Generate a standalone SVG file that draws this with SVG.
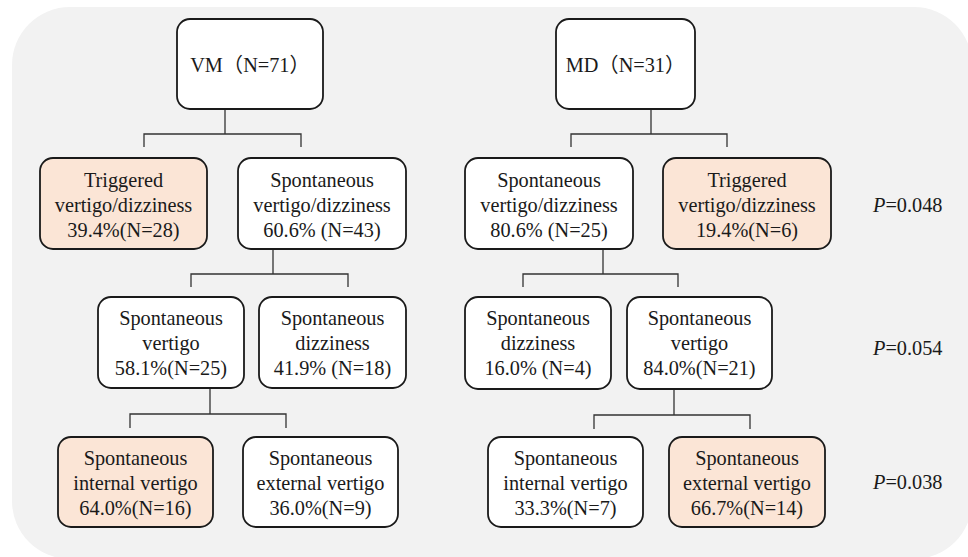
<svg xmlns="http://www.w3.org/2000/svg" width="968" height="557" viewBox="0 0 968 557">
<style>
.bg{fill:#f2f2f2}
.box{fill:#ffffff;stroke:#1a1a1a;stroke-width:1.8}
.hl{fill:#fbe5d6}
.t{font-size:20.3px;fill:#1a1a1a;text-anchor:middle}
.p{font-size:20.3px;fill:#1a1a1a}
.c{fill:none;stroke:#333333;stroke-width:1.3}
</style>
<rect class="bg" x="12" y="7" width="960" height="552" rx="58" ry="58"/>
<g id="connectors">
<path class="c" d="M225,109V134M144,147V134H301V147"/>
<path class="c" d="M273,249V274M191,287V274H348V287"/>
<path class="c" d="M210,388V414M130,428V414H286V428"/>
<path class="c" d="M651,109V134M571,147V134H727V147"/>
<path class="c" d="M603,249V274M523,287V274H678V287"/>
<path class="c" d="M674,389V415M594,429V415H750V429"/>
</g>
<g font-family="Liberation Serif, Noto Sans CJK SC, serif">
<g id="vm">
<rect class="box" x="177" y="19" width="146" height="90" rx="13"/>
<text class="t" x="250" y="72">VM（N=71）</text>
</g>
<g id="vm-triggered">
<rect class="box hl" x="40" y="158" width="167" height="91" rx="13"/>
<text class="t" x="123.5" y="187">Triggered</text>
<text class="t" x="123.5" y="212">vertigo/dizziness</text>
<text class="t" x="123.5" y="237">39.4%(N=28)</text>
</g>
<g id="vm-spontaneous">
<rect class="box" x="238" y="158" width="168" height="91" rx="13"/>
<text class="t" x="322" y="187">Spontaneous</text>
<text class="t" x="322" y="212">vertigo/dizziness</text>
<text class="t" x="322" y="237">60.6% (N=43)</text>
</g>
<g id="vm-sp-vertigo">
<rect class="box" x="98" y="297" width="146" height="91" rx="13"/>
<text class="t" x="171" y="325">Spontaneous</text>
<text class="t" x="171" y="350">vertigo</text>
<text class="t" x="171" y="375">58.1%(N=25)</text>
</g>
<g id="vm-sp-dizziness">
<rect class="box" x="259" y="297" width="147" height="91" rx="13"/>
<text class="t" x="332.5" y="325">Spontaneous</text>
<text class="t" x="332.5" y="350">dizziness</text>
<text class="t" x="332.5" y="375">41.9% (N=18)</text>
</g>
<g id="vm-internal">
<rect class="box hl" x="58" y="437" width="155" height="90" rx="13"/>
<text class="t" x="135.5" y="465">Spontaneous</text>
<text class="t" x="135.5" y="490">internal vertigo</text>
<text class="t" x="135.5" y="515">64.0%(N=16)</text>
</g>
<g id="vm-external">
<rect class="box" x="243" y="437" width="155" height="90" rx="13"/>
<text class="t" x="320.5" y="465">Spontaneous</text>
<text class="t" x="320.5" y="490">external vertigo</text>
<text class="t" x="320.5" y="515">36.0%(N=9)</text>
</g>
<g id="md">
<rect class="box" x="556" y="19" width="139" height="90" rx="13"/>
<text class="t" x="625.5" y="72">MD（N=31）</text>
</g>
<g id="md-spontaneous">
<rect class="box" x="465" y="158" width="168" height="91" rx="13"/>
<text class="t" x="549" y="187">Spontaneous</text>
<text class="t" x="549" y="212">vertigo/dizziness</text>
<text class="t" x="549" y="237">80.6% (N=25)</text>
</g>
<g id="md-triggered">
<rect class="box hl" x="663" y="158" width="168" height="91" rx="13"/>
<text class="t" x="747" y="187">Triggered</text>
<text class="t" x="747" y="212">vertigo/dizziness</text>
<text class="t" x="747" y="237">19.4%(N=6)</text>
</g>
<g id="md-sp-dizziness">
<rect class="box" x="465" y="297" width="146" height="92" rx="13"/>
<text class="t" x="538" y="325">Spontaneous</text>
<text class="t" x="538" y="350">dizziness</text>
<text class="t" x="538" y="375">16.0% (N=4)</text>
</g>
<g id="md-sp-vertigo">
<rect class="box" x="627" y="297" width="145" height="92" rx="13"/>
<text class="t" x="699.5" y="325">Spontaneous</text>
<text class="t" x="699.5" y="350">vertigo</text>
<text class="t" x="699.5" y="375">84.0%(N=21)</text>
</g>
<g id="md-internal">
<rect class="box" x="488" y="437" width="155" height="90" rx="13"/>
<text class="t" x="565.5" y="465">Spontaneous</text>
<text class="t" x="565.5" y="490">internal vertigo</text>
<text class="t" x="565.5" y="515">33.3%(N=7)</text>
</g>
<g id="md-external">
<rect class="box hl" x="669" y="437" width="156" height="90" rx="13"/>
<text class="t" x="747" y="465">Spontaneous</text>
<text class="t" x="747" y="490">external vertigo</text>
<text class="t" x="747" y="515">66.7%(N=14)</text>
</g>
<g id="pvalues">
<text class="p" x="873" y="212"><tspan font-style="italic">P</tspan>=0.048</text>
<text class="p" x="873" y="355"><tspan font-style="italic">P</tspan>=0.054</text>
<text class="p" x="873" y="489"><tspan font-style="italic">P</tspan>=0.038</text>
</g>
</g>
</svg>
